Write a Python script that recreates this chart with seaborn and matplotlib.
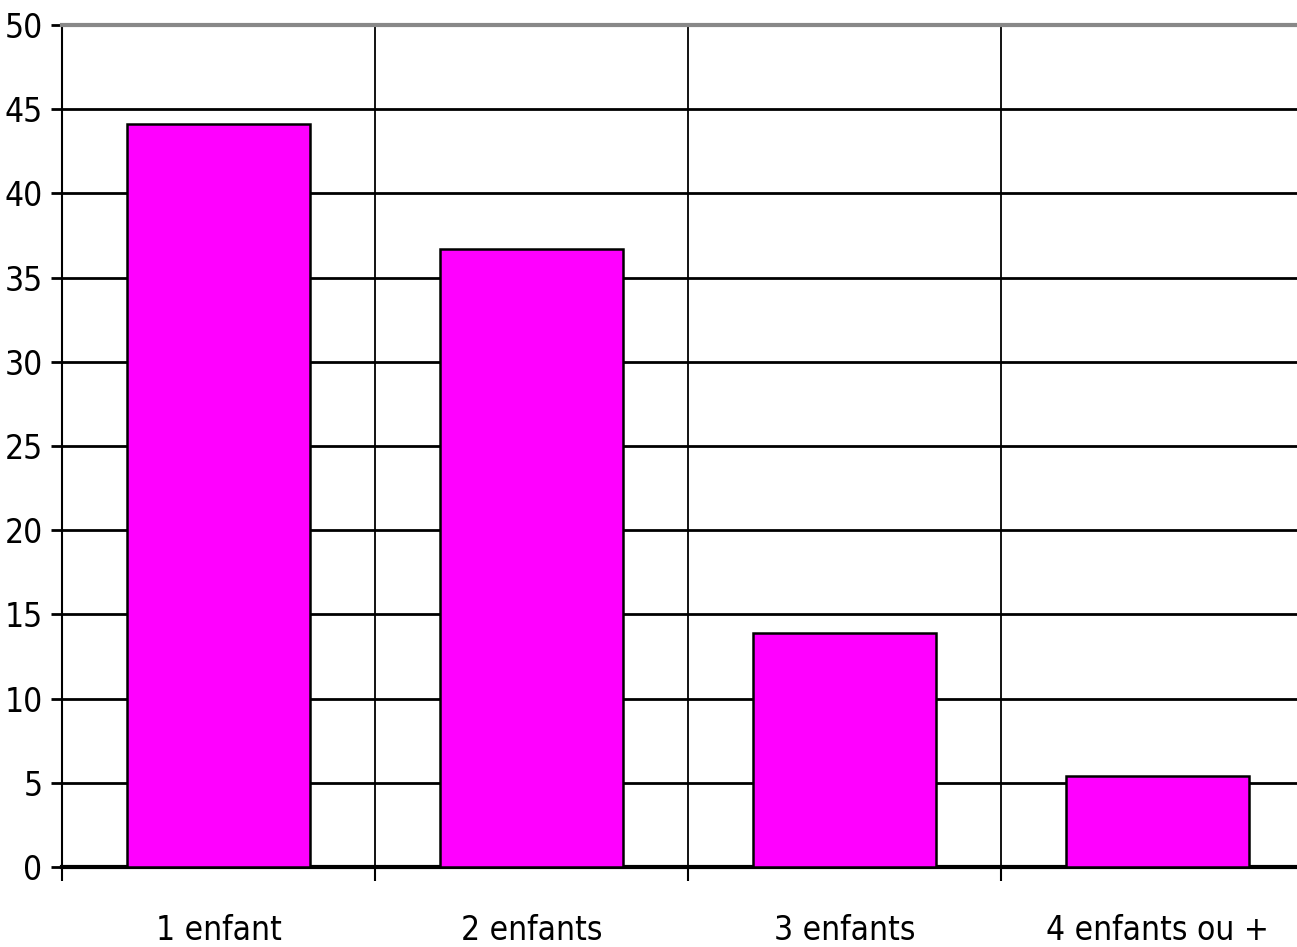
import matplotlib
matplotlib.use("Agg")
import matplotlib.pyplot as plt
from matplotlib.ticker import FixedLocator, MultipleLocator
import seaborn as sns
import pandas as pd

categories = ["1 enfant", "2 enfants", "3 enfants", "4 enfants ou +"]
values = [44.1, 36.7, 13.9, 5.4]

df = pd.DataFrame({"cat": categories, "val": values})

sns.set_style("white")
plt.rcParams["font.family"] = ["DejaVu Sans"]
plt.rcParams["font.stretch"] = "condensed"
plt.rcParams["text.color"] = "black"
plt.rcParams["xtick.color"] = "black"
plt.rcParams["ytick.color"] = "black"

fig = plt.figure(figsize=(12.97, 9.47), dpi=100)
ax = fig.add_axes([62 / 1297, 1 - 867 / 947, 1252 / 1297, 842 / 947])

sns.barplot(data=df, x="cat", y="val", color="#FF00FF", saturation=1,
            width=0.585, edgecolor="black", linewidth=1.8, ax=ax, zorder=3)

ax.set_xlim(-0.5, 3.5)
ax.set_ylim(0, 50)
ax.yaxis.set_major_locator(MultipleLocator(5))
ax.xaxis.set_minor_locator(FixedLocator([-0.5, 0.5, 1.5, 2.5]))

ax.grid(axis="y", which="major", color="black", linewidth=2, zorder=0)
ax.grid(axis="x", which="minor", color="black", linewidth=1.3, zorder=0)
ax.set_axisbelow(True)

ax.tick_params(axis="x", which="major", bottom=True, length=0, pad=34, labelsize=24,
               labelcolor="black")
ax.tick_params(axis="x", which="minor", bottom=True, length=10, width=1.5,
               direction="out", color="black")
ax.tick_params(axis="y", left=True, length=8, width=2, direction="out", color="black",
               labelsize=24, pad=6, labelcolor="black")

ax.spines["top"].set_color("#888888")
ax.spines["top"].set_linewidth(3)
ax.spines["left"].set_color("black")
ax.spines["left"].set_linewidth(1.5)
ax.spines["bottom"].set_color("black")
ax.spines["bottom"].set_linewidth(3)
ax.spines["right"].set_visible(False)

ax.set_xlabel("")
ax.set_ylabel("")

fig.savefig("out.png", dpi=100)
